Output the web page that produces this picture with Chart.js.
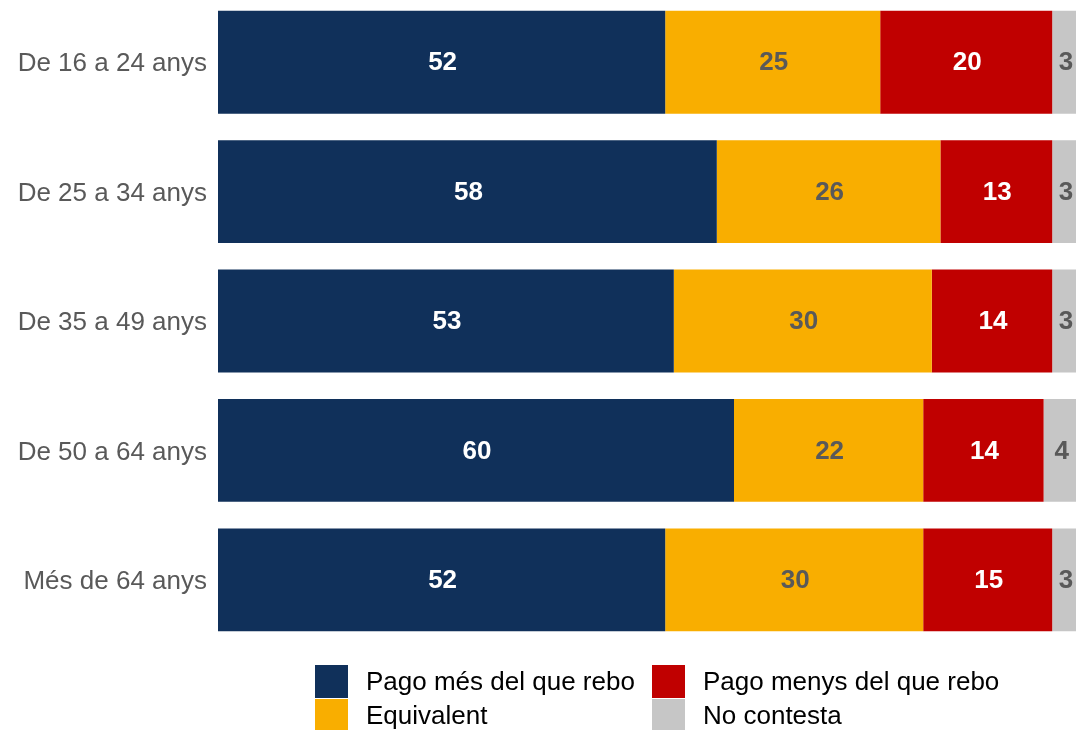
<!DOCTYPE html>
<html>
<head>
<meta charset="utf-8">
<script src="https://cdn.jsdelivr.net/npm/chart.js@4/dist/chart.umd.min.js"></script>
<style>
  html, body { margin: 0; padding: 0; background: #fff; }
  #wrap { position: relative; width: 1076px; height: 730px; overflow: hidden; }
  #chart { position: absolute; left: 0; top: -29px; }
  .leg-item { position: absolute; height: 33px; display: flex; align-items: center;
    font-family: "Liberation Sans", Arial, sans-serif; font-size: 26px; color: #000; white-space: nowrap; }
  .leg-box { width: 33px; height: 33px; margin-right: 18px; }
</style>
</head>
<body>
<div id="wrap">
  <canvas id="chart" width="1078" height="759"></canvas>
  <div id="legend"></div>
</div>
<script>
const categories = ['De 16 a 24 anys', 'De 25 a 34 anys', 'De 35 a 49 anys', 'De 50 a 64 anys', 'Més de 64 anys'];
const pagoMes = [52, 58, 53, 60, 52];
const equivalent = [25, 26, 30, 22, 30];
const pagoMenys = [20, 13, 14, 14, 15];
const noContesta = [3, 3, 3, 4, 3];

const seriesNames = ['Pago més del que rebo', 'Equivalent', 'Pago menys del que rebo', 'No contesta'];
const seriesColors = ['#10305a', '#f9ae00', '#c00000', '#c6c6c6'];
const valueColors = ['#ffffff', '#595959', '#ffffff', '#595959'];

const seriesValues = [pagoMes, equivalent, pagoMenys, noContesta];

// value labels in the middle of each segment
const valueLabels = {
  id: 'valueLabels',
  afterDatasetsDraw(chart) {
    const ctx = chart.ctx;
    ctx.save();
    ctx.font = 'bold 26px "Liberation Sans", Arial, sans-serif';
    ctx.textAlign = 'center';
    ctx.textBaseline = 'middle';
    chart.data.datasets.forEach((ds, i) => {
      const meta = chart.getDatasetMeta(i);
      meta.data.forEach((bar, j) => {
        const p = bar.getCenterPoint();
        ctx.fillStyle = valueColors[i];
        ctx.fillText(ds.data[j], p.x + 1, p.y + 1);
      });
    });
    ctx.restore();
  }
};

const chart = new Chart(document.getElementById('chart').getContext('2d'), {
  type: 'bar',
  data: {
    labels: categories,
    datasets: seriesValues.map((vals, i) => ({
      label: seriesNames[i],
      data: vals,
      backgroundColor: seriesColors[i],
      borderWidth: 0,
      categoryPercentage: 1,
      barPercentage: 0.795
    }))
  },
  options: {
    indexAxis: 'y',
    responsive: false,
    animation: false,
    devicePixelRatio: 1,
    layout: { padding: { top: 0, bottom: 85.5, left: 0, right: 0 } },
    plugins: {
      legend: { display: false },
      tooltip: { enabled: false }
    },
    scales: {
      x: { stacked: true, min: 0, max: 100, display: false },
      y: {
        stacked: true,
        grid: { display: false, drawTicks: false },
        border: { display: false },
        ticks: {
          color: '#595959',
          padding: 11,
          labelOffset: 2,
          font: { family: '"Liberation Sans", Arial, sans-serif', size: 26 }
        },
        afterFit(scale) { scale.width = 218; }
      }
    }
  },
  plugins: [valueLabels]
});

// legend in two columns under the plot
const legendPos = [[315, 665], [315, 699], [652, 665], [652, 699]];
const legendDiv = document.getElementById('legend');
seriesNames.forEach((name, i) => {
  const item = document.createElement('div');
  item.className = 'leg-item';
  item.style.left = legendPos[i][0] + 'px';
  item.style.top = legendPos[i][1] + 'px';
  const box = document.createElement('span');
  box.className = 'leg-box';
  box.style.background = seriesColors[i];
  const txt = document.createElement('span');
  txt.textContent = name;
  item.appendChild(box);
  item.appendChild(txt);
  legendDiv.appendChild(item);
});
</script>
</body>
</html>
